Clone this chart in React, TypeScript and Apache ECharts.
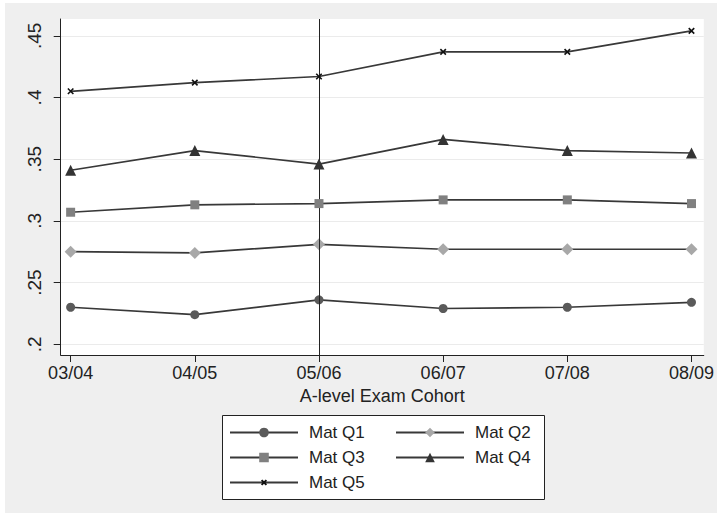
import React, { useEffect, useRef } from 'react';
import * as echarts from 'echarts';

const categories = ['03/04', '04/05', '05/06', '06/07', '07/08', '08/09'];
const matQ1 = [0.230, 0.224, 0.236, 0.229, 0.230, 0.234];
const matQ2 = [0.275, 0.274, 0.281, 0.277, 0.277, 0.277];
const matQ3 = [0.307, 0.313, 0.314, 0.317, 0.317, 0.314];
const matQ4 = [0.341, 0.357, 0.346, 0.366, 0.357, 0.355];
const matQ5 = [0.405, 0.412, 0.417, 0.437, 0.437, 0.454];
const yTicks = [0.2, 0.25, 0.3, 0.35, 0.4, 0.45];
const xTicks = [0, 1, 2, 3, 4, 5];
const referenceCohort = 2; // 05/06

const FONT = "'Liberation Sans', Arial, sans-serif";
const LINE_COLOR = '#383838';

const seriesDefs = [
  { name: 'Mat Q1', data: matQ1, symbol: 'circle', size: 9, color: '#5a5a5a' },
  { name: 'Mat Q2', data: matQ2, symbol: 'diamond', size: 12, color: '#a8a8a8' },
  { name: 'Mat Q3', data: matQ3, symbol: 'rect', size: 9, color: '#808080' },
  { name: 'Mat Q4', data: matQ4, symbol: 'triangle', size: 11, color: '#333333' },
  { name: 'Mat Q5', data: matQ5, symbol: 'path://M0,0M10,10M2.5,2.5L7.5,7.5M7.5,2.5L2.5,7.5', size: 11, color: '#111111' },
];

const legendPlacement = [
  { name: 'Mat Q1', left: 224, top: 421 },
  { name: 'Mat Q2', left: 390, top: 421 },
  { name: 'Mat Q3', left: 224, top: 446 },
  { name: 'Mat Q4', left: 390, top: 446 },
  { name: 'Mat Q5', left: 224, top: 471 },
];

export default function App() {
  const ref = useRef<HTMLDivElement>(null);

  useEffect(() => {
    document.body.style.margin = '0';
    if (!ref.current) return;
    const chart = echarts.init(ref.current, undefined, { renderer: 'svg' });

    const series: any[] = seriesDefs.map((s, idx) => ({
      type: 'line',
      name: s.name,
      data: s.data.map((v, i) => [xTicks[i], v]),
      symbol: s.symbol,
      symbolSize: s.size,
      showSymbol: true,
      lineStyle: { color: LINE_COLOR, width: 1.7 },
      itemStyle:
        s.name === 'Mat Q5'
          ? { color: s.color, borderColor: s.color, borderWidth: 1.6 }
          : { color: s.color, borderWidth: 0 },
      emphasis: { disabled: true },
      z: 3 + idx,
      markLine:
        idx === 0
          ? {
              silent: true,
              symbol: ['none', 'none'],
              label: { show: false },
              lineStyle: { color: '#222', width: 1, type: 'solid' },
              data: [{ xAxis: referenceCohort }],
            }
          : undefined,
    }));

    const legends = legendPlacement.map((l) => ({
      data: [l.name],
      left: l.left,
      top: l.top,
      orient: 'horizontal',
      padding: 0,
      itemWidth: 68,
      itemHeight: 12,
      selectedMode: false,
      z: 10,
      textStyle: { fontSize: 17, color: '#222', fontFamily: FONT, padding: [0, 0, 0, 6] },
    }));

    chart.setOption({
      animation: false,
      backgroundColor: '#efefef',
      textStyle: { fontFamily: FONT },
      grid: {
        left: 55.7,
        top: 16,
        width: 646.3,
        height: 336,
        show: true,
        backgroundColor: '#ffffff',
        borderWidth: 0,
        containLabel: false,
      },
      xAxis: {
        type: 'value',
        min: -0.08,
        max: 5.099,
        axisLine: { show: true, onZero: false, lineStyle: { color: '#222', width: 1 } },
        axisTick: { show: true, length: 7, customValues: xTicks, lineStyle: { color: '#222' } },
        axisLabel: {
          customValues: xTicks,
          formatter: (v: number) => categories[Math.round(v)],
          fontSize: 18,
          color: '#222',
          margin: 9,
          fontFamily: FONT,
        },
        splitLine: { show: false },
        name: 'A-level Exam Cohort',
        nameLocation: 'middle',
        nameGap: 30,
        nameTextStyle: { fontSize: 18, color: '#222', fontFamily: FONT },
      },
      yAxis: {
        type: 'value',
        min: 0.1913,
        max: 0.4636,
        axisLine: { show: true, onZero: false, lineStyle: { color: '#222', width: 1 } },
        axisTick: { show: true, length: 7, customValues: yTicks, lineStyle: { color: '#222' } },
        axisLabel: {
          customValues: yTicks,
          rotate: 90,
          formatter: (v: number) => v.toFixed(2).replace(/0$/, '').replace(/^0/, ''),
          fontSize: 19,
          color: '#222',
          margin: 17,
          fontFamily: FONT,
        },
        splitLine: { show: true, lineStyle: { color: '#ebebeb', width: 1 } },
      },
      legend: legends,
      graphic: [
        {
          type: 'rect',
          z: 1,
          shape: { x: 217.5, y: 412.5, width: 322, height: 84 },
          style: { fill: '#ffffff', stroke: '#222', lineWidth: 1 },
          silent: true,
        },
      ],
      series,
    });

    return () => chart.dispose();
  }, []);

  return (
    <div style={{ position: 'relative', width: 717, height: 523, background: '#ffffff' }}>
      <div ref={ref} style={{ position: 'absolute', left: 5, top: 3, width: 712, height: 510 }} />
    </div>
  );
}
